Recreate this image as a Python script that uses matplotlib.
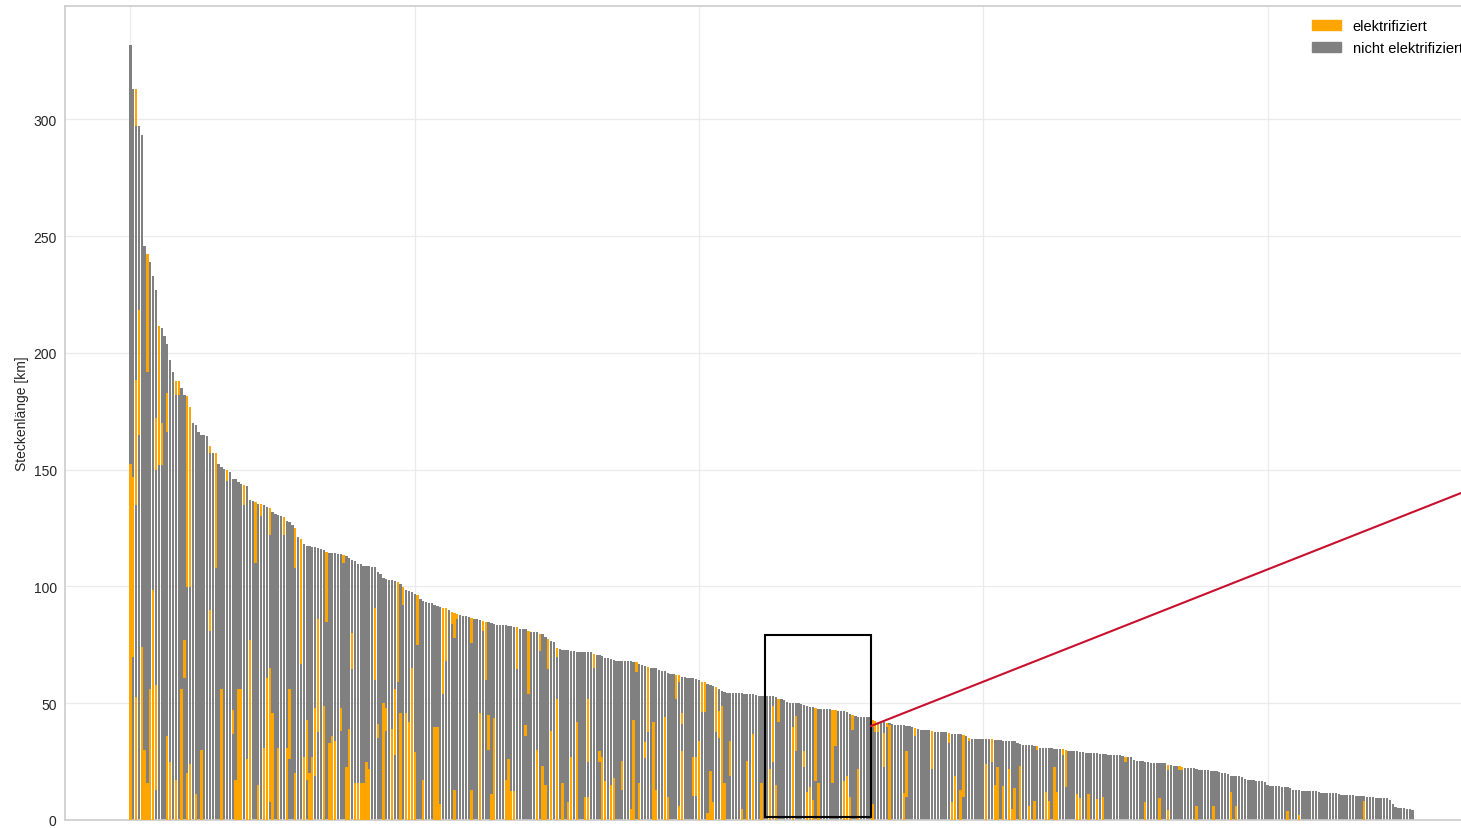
import numpy as np
import matplotlib
matplotlib.use("Agg")
import matplotlib.pyplot as plt
from matplotlib.patches import Patch, Rectangle
from matplotlib.ticker import MultipleLocator

# Total length of every line [km], sorted descending
route_length = [
    332, 313, 313, 297, 293.5, 246, 242.6, 239, 233, 227,
    211.7, 210.6, 207.4, 204, 197, 192, 188, 188, 185, 182,
    181.7, 176.8, 170, 169, 166, 165, 165, 164.6, 160, 157,
    157, 152.6, 151, 150.4, 150, 149, 146, 146, 144.6, 144,
    143.5, 143, 137, 136.7, 136, 135.4, 135.4, 135, 134, 133.5,
    131.8, 131, 130.7, 130.3, 129.6, 128, 127.5, 126.4, 125, 121,
    120.4, 118, 117.4, 117.2, 117.1, 117, 116.5, 116, 115.5, 114.6,
    114.4, 114.3, 114.2, 114.1, 114, 113.5, 113.2, 112, 111.5, 110.8,
    109.8, 109.5, 108.8, 108.7, 108.6, 108.5, 108.4, 106.4, 105.4, 103.5,
    103, 102.8, 102.6, 102.4, 102, 101, 99.6, 98.5, 98.2, 97.8,
    96.6, 96.4, 94.6, 93.8, 93.2, 93, 92.8, 92.2, 91.8, 91.4,
    91, 90.6, 90, 89.2, 88.5, 88.2, 87.8, 87.5, 87.3, 86.8,
    86.4, 86.1, 86, 85.6, 85.4, 85, 84.7, 84.5, 84, 83.7,
    83.5, 83.4, 83.3, 83.1, 83, 82.7, 82.5, 82, 81.8, 81.6,
    81, 80.6, 80.5, 80.3, 79.7, 79.6, 78.5, 77.5, 76.5, 76.3,
    73.7, 73.2, 72.9, 72.8, 72.6, 72.3, 72.2, 72.1, 72.1, 72,
    72, 71.9, 71.8, 71, 70.8, 70.6, 70.2, 69.5, 69.3, 69,
    68.5, 68.3, 68.2, 68.1, 68, 68, 67.9, 67.8, 67.5, 66.8,
    66.4, 66, 65.4, 65.3, 65.2, 65, 64.3, 64, 63.6, 62.8,
    62.6, 62.4, 62.2, 62, 61.4, 61.2, 61, 60.9, 60.8, 60.5,
    59.8, 59.2, 59, 58.4, 58, 57.5, 56.8, 56, 55.2, 54.8,
    54.6, 54.5, 54.5, 54.4, 54.3, 54.2, 54.1, 54, 53.9, 53.8,
    53.4, 53.3, 53.2, 53.1, 53, 53, 52.9, 52.8, 52, 51.8,
    51.4, 50.4, 50.3, 50.2, 50.1, 50, 49.6, 49.3, 49, 48.4,
    48.3, 47.8, 47.7, 47.7, 47.6, 47.6, 47.5, 47.3, 47.2, 46.7,
    46.6, 46.5, 46.4, 45.6, 45, 44.7, 44.3, 44.2, 44.1, 44,
    44, 43, 42.5, 42.1, 42, 41.8, 41.7, 41.5, 40.9, 40.8,
    40.7, 40.6, 40.5, 40.4, 40.2, 39.8, 39.3, 38.8, 38.6, 38.5,
    38.4, 38.4, 38.3, 37.9, 37.8, 37.7, 37.6, 37.5, 37.3, 36.9,
    36.8, 36.8, 36.7, 36.6, 36.1, 35, 34.8, 34.7, 34.7, 34.7,
    34.6, 34.6, 34.5, 34.5, 34.2, 34.1, 34.1, 34, 34, 33.9,
    33.8, 33.7, 33, 32.4, 32.3, 32.2, 32.1, 32, 31.9, 31.8,
    30.9, 30.8, 30.8, 30.7, 30.7, 30.6, 30.5, 30.5, 30.4, 30.1,
    29.7, 29.6, 29.5, 29.4, 29.3, 29.2, 28.9, 28.8, 28.8, 28.7,
    28.6, 28.3, 28.2, 28.1, 28, 28, 27.9, 27.8, 27.7, 27.6,
    27.1, 26.9, 26.8, 25.5, 25.3, 25.2, 25.1, 25, 24.8, 24.6,
    24.5, 24.5, 24.4, 24.3, 24.2, 23.5, 23.4, 23.3, 23.2, 23,
    22.8, 22.4, 22.3, 22.2, 22.1, 21.7, 21.6, 21.6, 21.5, 21.5,
    21, 20.9, 20.8, 20.7, 20.2, 20, 19.9, 18.9, 18.8, 18.8,
    18.7, 18.6, 17.4, 17.2, 17.1, 17, 16.9, 16.8, 16.6, 16.4,
    15, 14.7, 14.6, 14.5, 14.4, 14.3, 14.2, 14, 13.9, 13,
    12.8, 12.7, 12.6, 12.6, 12.5, 12.5, 12.4, 12.3, 11.8, 11.7,
    11.6, 11.6, 11.5, 11.5, 11.4, 11.3, 10.8, 10.7, 10.6, 10.5,
    10.5, 10.4, 10.2, 10.1, 10.1, 10, 10, 9.7, 9.6, 9.5,
    9.5, 9.4, 9.3, 8.7, 6.9, 5.4, 5.3, 5.2, 5.1, 4.8,
    4.6, 4.4,
]

# Electrified sections: line index, start and end position along the bar [km]
elec_route = [
    0, 1, 2, 2, 2, 3, 4, 5, 6, 6, 7, 8, 9, 9, 10, 11, 13, 13, 14, 16,
    17, 16, 18, 19, 20, 20, 21, 21, 23, 25, 28, 28, 30, 32, 34, 36, 37, 38, 39, 40,
    41, 42, 44, 45, 46, 47, 48, 49, 49, 50, 52, 54, 55, 56, 58, 58, 60, 61, 62, 63,
    64, 65, 66, 68, 69, 70, 71, 72, 74, 75, 76, 77, 78, 79, 80, 81, 82, 83, 84, 86,
    87, 89, 90, 92, 93, 94, 95, 96, 97, 98, 99, 100, 101, 103, 107, 108, 109, 110, 111, 113,
    114, 114, 115, 120, 120, 123, 124, 125, 126, 127, 128, 132, 133, 134, 135, 136, 139, 140, 143, 144,
    145, 146, 147, 148, 150, 150, 152, 154, 155, 157, 160, 161, 161, 163, 165, 166, 167, 169, 170, 173,
    176, 177, 178, 179, 181, 182, 184, 185, 188, 189, 192, 193, 193, 194, 194, 198, 199, 200, 201, 202,
    203, 204, 205, 206, 207, 208, 209, 211, 215, 217, 219, 222, 225, 226, 227, 228, 233, 234, 237, 238,
    239, 240, 241, 242, 247, 248, 251, 252, 253, 254, 256, 261, 261, 262, 263, 265, 266, 267, 272, 273,
    276, 282, 288, 289, 290, 292, 293, 295, 301, 303, 304, 305, 307, 309, 310, 311, 313, 316, 318, 319,
    322, 323, 325, 326, 328, 329, 333, 334, 337, 340, 342, 350, 357, 362, 365, 365, 369, 370, 375, 381,
    387, 389, 407, 411, 434,
]
elec_start = [
    0, 70, 297, 135, 0, 165, 0, 0, 192, 0, 0, 0, 150, 13, 152, 152, 166, 0, 0, 182,
    182, 0, 0, 61, 99.6, 0, 99.6, 0, 0, 0, 157, 81, 108, 0, 145, 37, 0, 0, 0, 135,
    0, 0, 110, 0, 130, 0, 0, 122, 7.5, 0, 0, 122, 0, 26, 108, 0, 67, 0, 17, 0,
    0, 19, 37.5, 0, 84.6, 0, 0, 0, 38, 110, 0, 0, 64.7, 0, 0, 0, 0, 0, 0, 60,
    35, 0, 38, 0, 28, 59, 0, 92, 0, 0, 0, 0, 75, 0, 0, 0, 0, 54, 68, 84,
    0, 78, 86, 76, 0, 0, 81, 60, 30, 0, 0, 0, 0, 0, 0, 64.7, 36, 54, 0, 72.5,
    0, 0, 64.7, 0, 0, 70, 0, 0, 0, 0, 0, 0, 25, 65, 24.7, 0, 0, 0, 0, 13,
    0, 0, 63.5, 0, 26.4, 37.5, 0, 0, 0, 0, 51.8, 59, 0, 41, 0, 10.4, 10.4, 0, 46.4, 46.4,
    0, 0, 0, 37.5, 35, 0, 0, 19, 0, 0, 0, 0, 0, 24.7, 0, 41.8, 0, 29.7, 22.5, 0,
    0, 0, 16.8, 0, 16, 31.8, 0, 0, 0, 38.7, 0, 0, 39.7, 37.8, 37.8, 22.5, 39.7, 0, 0, 9.7,
    35.8, 22, 33, 0, 0, 0, 9.7, 34, 0, 25, 0, 0, 0, 0, 0, 0, 0, 0, 0, 30,
    0, 0, 0, 0, 28, 14, 0, 0, 0, 0, 0, 24.7, 0, 0, 0, 21.5, 21.5, 21.5, 0, 0,
    0, 0, 0, 0, 0,
]
elec_end = [
    152.6, 147, 313, 188.5, 52.5, 218.5, 74, 30, 242.6, 16, 56, 98.6, 172, 58, 211.7, 170, 183, 36, 25, 188,
    188, 17, 56, 77, 181.7, 20, 176.8, 24, 11, 30, 160, 90, 157, 56, 150, 47, 17, 56, 56, 143.5,
    26, 77, 136, 15, 135.4, 31, 61, 133.5, 65, 46, 31, 129.6, 31, 56, 125, 20, 120.4, 27, 43, 20,
    27, 48, 86, 49, 114.6, 33, 36, 34, 48, 113.5, 22.6, 39, 80, 16, 16, 16, 16, 25, 22, 91,
    41, 50, 48, 39, 56, 102, 46, 99.6, 46, 42, 65, 29, 96.4, 17, 40, 40, 7, 91, 90.6, 89.2,
    13, 88.5, 88.2, 86.4, 13, 46, 85.4, 85, 45, 11, 43.5, 17, 26, 12.5, 12.5, 82.5, 40.7, 81, 30, 79.7,
    23, 15, 77.5, 38, 51.8, 73.7, 15.8, 7.5, 27, 42, 10, 10, 51.8, 71, 29.7, 26.8, 16.8, 15, 18, 25.4,
    4.7, 42.8, 67.5, 15.8, 33.5, 65.4, 42, 13, 44, 10, 62.2, 62, 5.8, 46, 29.7, 26.8, 26.8, 34, 59.2, 59,
    3, 21, 7.5, 56.8, 46.8, 49, 15.8, 34, 4.7, 25.4, 36.8, 15.8, 21.8, 49, 15, 52, 40, 44.7, 29.7, 12,
    14, 8.7, 47.8, 15.8, 47.3, 47.2, 16.8, 19, 10, 45, 21.8, 7, 43, 42.5, 42.1, 37.3, 41.7, 40.7, 11.6, 29.7,
    39.3, 38.3, 37.3, 7.5, 19, 13, 36.4, 35, 24, 34.5, 15, 22.5, 14.4, 22, 4.7, 13.5, 23, 5.8, 8.3, 31.8,
    11.8, 8.3, 22.5, 11.8, 30.4, 30.1, 11, 9.3, 11, 9, 10, 27.1, 7.5, 9.3, 4.4, 23.5, 23, 22.8, 6, 5.8,
    11.8, 6, 4, 2, 8,
]

# Zoomed window marked on the chart and where its connector heads
zoom_x = (223.2, 260.5)
zoom_y = (1.3, 79.2)
connector_end = (500.0, 155.4)

ORANGE = "#FFA500"
GREY = "#808080"

plt.rcParams["font.family"] = ["Liberation Sans", "DejaVu Sans"]

W, H, DPI = 1461, 829, 100
fig = plt.figure(figsize=(W / DPI, H / DPI), dpi=DPI)
ax = fig.add_axes([65 / W, 8 / H, (1478 - 65) / W, (821 - 7) / H])

x = np.arange(len(route_length))
lengths = np.array(route_length)
ax.bar(x, lengths, width=0.8, color=GREY, linewidth=0, zorder=2)

starts = np.array(elec_start)
ends = np.array(elec_end)
ax.bar(elec_route, ends - starts, bottom=starts, width=0.8,
       color=ORANGE, linewidth=0, zorder=3)

# axes styling
ax.set_xlim(-23, 474)
ax.set_ylim(0, lengths.max() * 1.05)
ax.xaxis.set_major_locator(MultipleLocator(100))
ax.yaxis.set_major_locator(MultipleLocator(50))
ax.tick_params(axis="x", length=0, labelbottom=False)
ax.tick_params(axis="y", length=0, pad=6, labelsize=10, labelcolor="#262626")
ax.grid(True, color="#ebebeb", linewidth=0.9)
ax.set_axisbelow(True)
for s in ax.spines.values():
    s.set_color("#cccccc")
    s.set_linewidth(1.2)
ax.set_ylabel("Steckenlänge [km]", fontsize=10, color="#262626", labelpad=3)

# zoom window and connector
rect = Rectangle((zoom_x[0], zoom_y[0]), zoom_x[1] - zoom_x[0], zoom_y[1] - zoom_y[0],
                 fill=False, edgecolor="black", linewidth=1.5, zorder=5)
ax.add_patch(rect)
mid_y = (zoom_y[0] + zoom_y[1]) / 2
ax.plot([zoom_x[1], connector_end[0]], [mid_y, connector_end[1]],
        color="#c8102e", linewidth=1.5, zorder=6, clip_on=False)

handles = [Patch(color=ORANGE, label="elektrifiziert"),
           Patch(color=GREY, label="nicht elektrifiziert")]
fig.legend(handles=handles, loc="upper left", bbox_to_anchor=(1312 / W, 1 - 20 / H),
           bbox_transform=fig.transFigure, frameon=False, fontsize=10.5,
           borderpad=0, borderaxespad=0, handlelength=2.0, handletextpad=0.8,
           labelspacing=0.55)

fig.savefig("out.png", dpi=DPI)
